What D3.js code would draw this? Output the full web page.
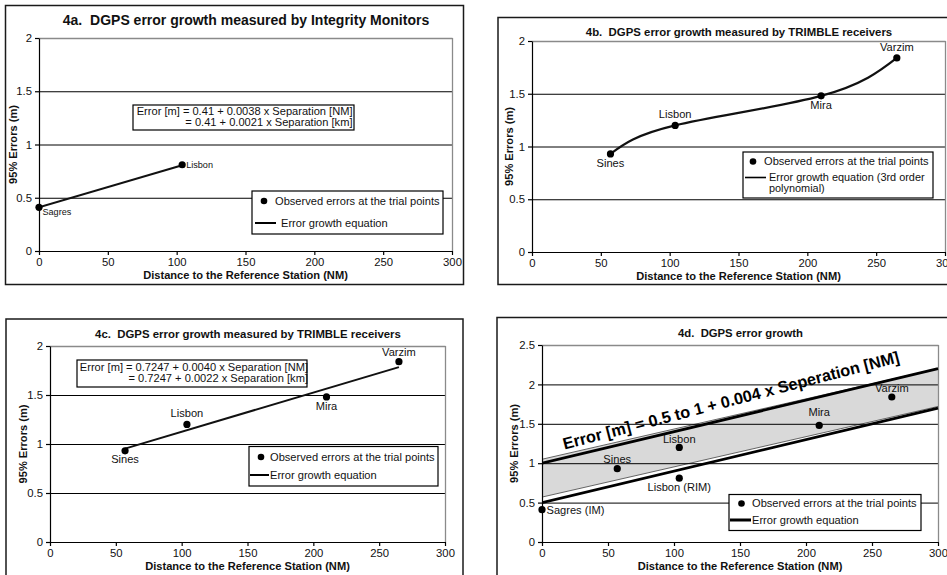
<!DOCTYPE html>
<html>
<head>
<meta charset="utf-8">
<script src="https://cdn.jsdelivr.net/npm/d3@7"></script>
<style>
  html, body { margin: 0; padding: 0; background: #fff; }
  svg { display: block; font-family: "Liberation Sans", Arial, Helvetica, sans-serif; }
  text { white-space: pre; }
</style>
</head>
<body>
<svg id="chart" width="947" height="575"></svg>
<script>
// ---- Data: distance to the reference station (NM) vs. 95% position error (m) ----
const distanceTicks = [0, 50, 100, 150, 200, 250, 300];
const errorTicks = [0, 0.5, 1, 1.5, 2];
const errorTicksWide = [0, 0.5, 1, 1.5, 2, 2.5];

// 4a: integrity monitors
const imSites = ["Sagres", "Lisbon"];
const imDistance = [0, 104];
const imError = [0.41, 0.81];
const imFitNM = [0.41, 0.0038];   // intercept, slope per NM
const imFitKm = [0.41, 0.0021];   // intercept, slope per km

// 4b / 4c: TRIMBLE receivers
const trimbleSites = ["Sines", "Lisbon", "Mira", "Varzim"];
const trimbleDistance = [57, 104, 210, 265];
const trimbleError = [0.93, 1.2, 1.48, 1.84];
const trimbleFitNM = [0.7247, 0.0040];
const trimbleFitKm = [0.7247, 0.0022];

// 4d: all trial points with the bounding error growth lines
const allSites = ["Sagres (IM)", "Sines", "Lisbon", "Lisbon (RIM)", "Mira", "Varzim"];
const allDistance = [0, 57, 104, 104, 210, 265];
const allError = [0.41, 0.93, 1.2, 0.81, 1.48, 1.84];
const boundIntercepts = [0.5, 1];
const boundSlope = 0.004;
const bandDistance = [0, 300];
const bandLower = [0.57, 1.72];
const bandUpper = [1.05, 2.2];

const fmt = (v, d) => d3.format("." + d + "f")(v);

const svg = d3.select("#chart");

function panel(p) {
  const g = svg.append("g");
  const f = p.frame;
  g.append("rect")
    .attr("x", f.x).attr("y", f.y).attr("width", f.w).attr("height", f.h)
    .attr("fill", "#fff").attr("stroke", "#1a1a1a").attr("stroke-width", 1.5);

  const x = d3.scaleLinear().domain([0, 300]).range([p.plot.l, p.plot.r]);
  const yMax = p.yTicks[p.yTicks.length - 1];
  const y = d3.scaleLinear().domain([0, yMax]).range([p.plot.b, p.plot.t]);

  const clipId = "clip-" + p.id;
  g.append("clipPath").attr("id", clipId).append("rect")
    .attr("x", p.plot.l).attr("y", p.plot.t)
    .attr("width", p.plot.r - p.plot.l + 1).attr("height", p.plot.b - p.plot.t + 1);

  const under = g.append("g").attr("clip-path", `url(#${clipId})`);
  const grid = g.append("g");
  const over = g.append("g").attr("clip-path", `url(#${clipId})`);
  const top = g.append("g");

  // horizontal gridlines; the top one doubles as the grey plot-area border
  grid.selectAll("line.h").data(p.yTicks.slice(1)).join("line")
    .attr("class", "h")
    .attr("x1", p.plot.l).attr("x2", p.plot.r + 0.5)
    .attr("y1", d => y(d) + 0.5).attr("y2", d => y(d) + 0.5)
    .attr("stroke", d => d === yMax ? "#8a8a8a" : "#000")
    .attr("stroke-width", d => d === yMax ? 1.6 : 1);
  grid.append("line")
    .attr("x1", p.plot.r + 0.5).attr("x2", p.plot.r + 0.5)
    .attr("y1", p.plot.t).attr("y2", p.plot.b)
    .attr("stroke", "#8a8a8a").attr("stroke-width", 1.3);

  // axes
  const xa = g.append("g").attr("transform", `translate(0,${p.plot.b})`)
    .call(d3.axisBottom(x).tickValues(distanceTicks).tickSize(4).tickSizeOuter(0)
      .tickPadding(3).tickFormat(d3.format("d")));
  const ya = g.append("g").attr("transform", `translate(${p.plot.l},0)`)
    .call(d3.axisLeft(y).tickValues(p.yTicks).tickSize(4).tickSizeOuter(0)
      .tickPadding(3).tickFormat(d => String(d)));
  [xa, ya].forEach(a => {
    a.attr("font-family", null).attr("font-size", 11.3);
    a.selectAll("path, line").attr("stroke", "#000").attr("stroke-width", 1.2);
    a.selectAll("text").attr("fill", "#111");
  });

  // titles
  top.append("text")
    .attr("x", p.title.x).attr("y", p.title.y)
    .attr("text-anchor", "middle").attr("font-weight", "bold")
    .attr("font-size", p.title.size).attr("fill", "#111")
    .text(p.title.text);
  top.append("text")
    .attr("x", (p.plot.l + p.plot.r) / 2).attr("y", p.plot.b + 28)
    .attr("text-anchor", "middle").attr("font-weight", "bold")
    .attr("font-size", 11.1).attr("fill", "#111")
    .text("Distance to the Reference Station (NM)");
  top.append("text")
    .attr("transform", `translate(${p.yLabelX},${(p.plot.t + p.plot.b) / 2}) rotate(-90)`)
    .attr("text-anchor", "middle").attr("dy", "0.35em").attr("font-weight", "bold")
    .attr("font-size", 11.1).attr("fill", "#111")
    .text("95% Errors (m)");

  return { g, x, y, under, over, top };
}

function points(ctx, dist, err, names, labelPos, size) {
  const pts = dist.map((d, i) => ({ d, e: err[i], name: names[i], pos: labelPos[i] }));
  ctx.top.selectAll(null).data(pts).join("circle")
    .attr("cx", p => ctx.x(p.d)).attr("cy", p => ctx.y(p.e)).attr("r", 3.6)
    .attr("fill", "#000");
  ctx.top.selectAll(null).data(pts).join("text")
    .attr("x", p => ctx.x(p.d) + p.pos[0]).attr("y", p => ctx.y(p.e) + p.pos[1])
    .attr("text-anchor", p => p.pos[2] || "middle")
    .attr("dy", "0.35em").attr("font-size", size).attr("fill", "#111")
    .text(p => p.name);
}

function legend(ctx, box, items) {
  const lg = ctx.top.append("g");
  lg.append("rect").attr("x", box.x).attr("y", box.y).attr("width", box.w).attr("height", box.h)
    .attr("fill", "#fff").attr("stroke", "#000").attr("stroke-width", 1.2);
  items.forEach(it => {
    if (it.kind === "dot") {
      lg.append("circle").attr("cx", it.mx).attr("cy", it.y).attr("r", 3.3).attr("fill", "#000");
    } else {
      lg.append("line").attr("x1", it.mx).attr("x2", it.mx2).attr("y1", it.y).attr("y2", it.y)
        .attr("stroke", "#000").attr("stroke-width", it.w || 2);
    }
    it.lines.forEach((t, k) => {
      lg.append("text").attr("x", it.tx).attr("y", it.y + k * (it.lh || 10))
        .attr("dy", "0.35em").attr("font-size", it.fs || 11.1).attr("fill", "#111").text(t);
    });
  });
}

function equationBox(ctx, box, lines) {
  const eg = ctx.top.append("g");
  eg.append("rect").attr("x", box.x).attr("y", box.y).attr("width", box.w).attr("height", box.h)
    .attr("fill", "#fff").attr("stroke", "#000").attr("stroke-width", 1.2);
  lines.forEach((t, k) => {
    eg.append("text").attr("x", box.tx).attr("y", box.y + box.first + k * 11)
      .attr("dy", "0.35em").attr("text-anchor", "end")
      .attr("font-size", 11.1).attr("fill", "#111").text(t);
  });
}

const line = (ctx) => d3.line().x(p => ctx.x(p[0])).y(p => ctx.y(p[1]));

// ---------------- 4a ----------------
{
  const c = panel({
    id: "a", frame: { x: 5.5, y: 5.5, w: 458, h: 279 },
    plot: { l: 39, r: 452, t: 38, b: 251 }, yTicks: errorTicks, yLabelX: 13.5,
    title: { text: "4a.  DGPS error growth measured by Integrity Monitors", x: 246, y: 24.5, size: 14 }
  });
  const fitPts = d3.extent(imDistance).map(d => [d, imFitNM[0] + imFitNM[1] * d]);
  c.over.append("path").attr("d", line(c)(fitPts))
    .attr("fill", "none").attr("stroke", "#111").attr("stroke-width", 2);
  points(c, imDistance, imError, imSites, [[3.5, 4, "start"], [4, 0, "start"]], 9.1);
  equationBox(c, { x: 133, y: 105, w: 221, h: 25, tx: 352.5, first: 6.5 }, [
    `Error [m] = ${imFitNM[0]} + ${fmt(imFitNM[1], 4)} x Separation [NM]`,
    `= ${imFitKm[0]} + ${fmt(imFitKm[1], 4)} x Separation [km]`
  ]);
  legend(c, { x: 252, y: 191, w: 191, h: 43 }, [
    { kind: "dot", mx: 264, y: 201, tx: 275, lines: ["Observed errors at the trial points"] },
    { kind: "line", mx: 255, mx2: 276, y: 223, tx: 281, lines: ["Error growth equation"] }
  ]);
}

// ---------------- 4b ----------------
{
  const c = panel({
    id: "b", frame: { x: 498, y: 17.5, w: 470, h: 267 },
    plot: { l: 532, r: 945, t: 41, b: 252 }, yTicks: errorTicks, yLabelX: 509,
    title: { text: "4b.  DGPS error growth measured by TRIMBLE receivers", x: 739, y: 35.5, size: 11.4 }
  });
  const curvePts = trimbleDistance.map((d, i) => [d, trimbleError[i]]);
  c.over.append("path").attr("d", line(c).curve(d3.curveNatural)(curvePts))
    .attr("fill", "none").attr("stroke", "#111").attr("stroke-width", 2.2);
  points(c, trimbleDistance, trimbleError, trimbleSites,
    [[0, 9.5], [0, -11.5], [0, 9], [0, -10.5]], 11.1);
  legend(c, { x: 743, y: 152, w: 190, h: 46 }, [
    { kind: "dot", mx: 753, y: 161.5, tx: 764, lines: ["Observed errors at the trial points"] },
    { kind: "line", mx: 745, mx2: 766, y: 177.5, tx: 769, lh: 10.6, fs: 10.9,
      lines: ["Error growth equation (3rd order", "polynomial)"], w: 1.6 }
  ]);
}

// ---------------- 4c ----------------
{
  const c = panel({
    id: "c", frame: { x: 6, y: 319, w: 457, h: 280 },
    plot: { l: 50, r: 445, t: 346, b: 542 }, yTicks: errorTicks, yLabelX: 23,
    title: { text: "4c.  DGPS error growth measured by TRIMBLE receivers", x: 248, y: 338, size: 11.4 }
  });
  const fitPts = d3.extent(trimbleDistance).map(d => [d, trimbleFitNM[0] + trimbleFitNM[1] * d]);
  c.over.append("path").attr("d", line(c)(fitPts))
    .attr("fill", "none").attr("stroke", "#111").attr("stroke-width", 2);
  points(c, trimbleDistance, trimbleError, trimbleSites,
    [[0, 8.5], [0, -11.5], [0, 9], [0, -10]], 11.1);
  equationBox(c, { x: 77, y: 360, w: 230, h: 27, tx: 308, first: 7.3 }, [
    `Error [m] = ${trimbleFitNM[0]} + ${fmt(trimbleFitNM[1], 4)} x Separation [NM]`,
    `= ${trimbleFitKm[0]} + ${fmt(trimbleFitKm[1], 4)} x Separation [km]`
  ]);
  legend(c, { x: 249, y: 446.5, w: 189, h: 39.5 }, [
    { kind: "dot", mx: 261, y: 457, tx: 270, lines: ["Observed errors at the trial points"] },
    { kind: "line", mx: 250, mx2: 269, y: 475, tx: 270, lines: ["Error growth equation"] }
  ]);
}

// ---------------- 4d ----------------
{
  const c = panel({
    id: "d", frame: { x: 497, y: 317.5, w: 470, h: 282 },
    plot: { l: 542, r: 938, t: 345, b: 542 }, yTicks: errorTicksWide, yLabelX: 514,
    title: { text: "4d.  DGPS error growth", x: 740.5, y: 337, size: 11.3 }
  });
  // shaded envelope of expected errors
  const band = bandDistance.map((d, i) => ({ d, lo: bandLower[i], hi: bandUpper[i] }));
  c.under.append("path")
    .attr("d", d3.area().x(p => c.x(p.d)).y0(p => c.y(p.lo)).y1(p => c.y(p.hi))(band))
    .attr("fill", "#d9d9d9");
  ["lo", "hi"].forEach(k => {
    c.under.append("path")
      .attr("d", d3.line().x(p => c.x(p.d)).y(p => c.y(p[k]))(band))
      .attr("fill", "none").attr("stroke", "#555").attr("stroke-width", 0.9);
  });
  // lower and upper error growth lines
  boundIntercepts.forEach(b0 => {
    const pts = d3.extent(distanceTicks).map(d => [d, b0 + boundSlope * d]);
    c.over.append("path").attr("d", line(c)(pts))
      .attr("fill", "none").attr("stroke", "#000").attr("stroke-width", 2.8);
  });
  points(c, allDistance, allError, allSites,
    [[4.5, 0, "start"], [0, -9.5], [0, -8.6], [0, 9], [0, -13], [0, -8.5]], 11.1);
  c.top.append("text")
    .attr("transform", "translate(564.5,449.5) rotate(-14.6)")
    .attr("font-weight", "bold").attr("font-size", 16.3).attr("fill", "#000")
    .attr("textLength", 347).attr("lengthAdjust", "spacingAndGlyphs")
    .text(`Error [m] = ${boundIntercepts[0]} to ${boundIntercepts[1]} + ${boundSlope} x Seperation [NM]`);
  legend(c, { x: 729, y: 494.5, w: 192, h: 36 }, [
    { kind: "dot", mx: 741.5, y: 503.5, tx: 752, lines: ["Observed errors at the trial points"] },
    { kind: "line", mx: 730, mx2: 751, y: 520, tx: 752, lines: ["Error growth equation"], w: 3 }
  ]);
}
</script>
</body>
</html>
